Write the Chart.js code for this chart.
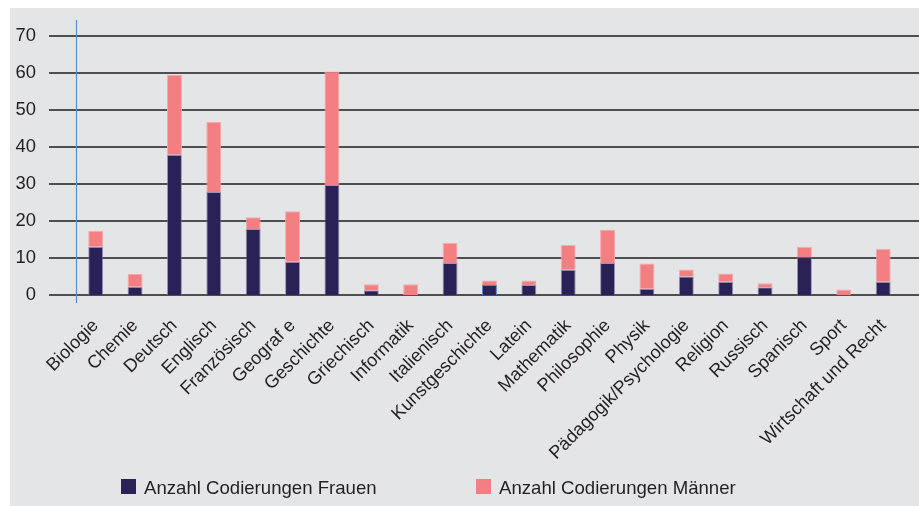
<!DOCTYPE html>
<html>
<head>
<meta charset="utf-8">
<script src="https://cdn.jsdelivr.net/npm/chart.js@4"></script>
<style>
  body { margin: 0; background: #ffffff; font-family: "Liberation Sans", Arial, sans-serif; }
  #panel { position: absolute; left: 10px; top: 8px; width: 909px; height: 498px; background: #e4e5e7; }
  #wrap { position: absolute; left: 0; top: 0; width: 909px; height: 498px; }
  .lg { position: absolute; top: 469px; font-size: 18.6px; color: #231f20; line-height: 20px; white-space: nowrap; }
  .lg i { position: absolute; left: 0; top: 2px; width: 15px; height: 15px; }
  .lg span { position: absolute; left: 23px; top: 1px; }
</style>
</head>
<body>
<div id="panel">
  <div id="wrap"><canvas id="chart"></canvas></div>
  <div class="lg" style="left:111px"><i style="background:#2a2156"></i><span>Anzahl Codierungen Frauen</span></div>
  <div class="lg" style="left:466px"><i style="background:#f47f83"></i><span>Anzahl Codierungen Männer</span></div>
</div>
<script>
// Fächer
const subjects = [
    'Biologie', 'Chemie', 'Deutsch', 'Englisch', 'Französisch', 'Geograf e', 'Geschichte',
    'Griechisch', 'Informatik', 'Italienisch', 'Kunstgeschichte', 'Latein', 'Mathematik',
    'Philosophie', 'Physik', 'Pädagogik/Psychologie', 'Religion', 'Russisch', 'Spanisch',
    'Sport', 'Wirtschaft und Recht'
];

// Anzahl Codierungen
const women = [13, 2.2, 37.8, 27.8, 17.8, 9, 29.7, 1.3, 0, 8.6, 2.7, 2.7, 6.8, 8.6, 1.7, 5, 3.6, 2.1, 10.2, 0, 3.6];
const men = [4.3, 3.5, 21.6, 18.9, 3.2, 13.6, 30.6, 1.6, 2.9, 5.4, 1.2, 1.2, 6.7, 9, 6.8, 1.9, 2.2, 1.1, 2.8, 1.5, 8.8];

const yTicks = [0, 10, 20, 30, 40, 50, 60, 70];

const FONT = '"Liberation Sans", Arial, sans-serif';

// gridlines run past the plot on both sides, blue axis line a bit longer than the plot
const framePlugin = {
    id: 'frame',
    beforeDatasetsDraw(chart) {
        const { ctx, chartArea, scales } = chart;
        ctx.save();
        ctx.strokeStyle = '#4e4e50';
        ctx.lineWidth = 2;
        yTicks.forEach(v => {
            const y = Math.round(scales.y.getPixelForValue(v));
            ctx.beginPath();
            ctx.moveTo(39, y);
            ctx.lineTo(chart.width, y);
            ctx.stroke();
        });
        ctx.strokeStyle = '#5b8fc6';
        ctx.lineWidth = 1.2;
        const x = Math.round(chartArea.left) + 0.5;
        ctx.beginPath();
        ctx.moveTo(x, chartArea.top - 15.5);
        ctx.lineTo(x, chartArea.bottom + 8);
        ctx.stroke();
        ctx.restore();
    }
};

const womenBorder = women.map((_, i) => i === 10 ? '#4a86c5' : 'rgba(120, 112, 160, 0.7)');

new Chart(document.getElementById('chart'), {
    type: 'bar',
    data: {
        labels: subjects,
        datasets: [
            {
                label: 'Anzahl Codierungen Frauen',
                data: women,
                backgroundColor: '#2a2156',
                borderColor: womenBorder,
                borderWidth: 1,
                borderSkipped: 'start'
            },
            {
                label: 'Anzahl Codierungen Männer',
                data: men,
                backgroundColor: '#f47f83',
                borderColor: '#f7a9ab',
                borderWidth: 1,
                borderSkipped: 'start'
            }
        ]
    },
    options: {
        responsive: true,
        maintainAspectRatio: false,
        animation: false,
        categoryPercentage: 1,
        barPercentage: 0.38,
        layout: { padding: { left: 0, right: 15.5, top: 27.5, bottom: 0 } },
        plugins: {
            legend: { display: false },
            tooltip: { enabled: false }
        },
        scales: {
            x: {
                stacked: true,
                grid: { display: false, drawTicks: false },
                border: { display: false },
                ticks: {
                    color: '#231f20',
                    font: { family: FONT, size: 18.2 },
                    minRotation: 45,
                    maxRotation: 45,
                    autoSkip: false,
                    padding: 20
                },
                afterFit: s => { s.height = 211; }
            },
            y: {
                stacked: true,
                min: 0,
                max: 70,
                grid: { display: false, drawTicks: true, tickLength: 36 },
                border: { display: false },
                ticks: {
                    stepSize: 10,
                    color: '#231f20',
                    font: { family: FONT, size: 18.4 },
                    padding: 4
                },
                afterFit: s => { s.width = 66; }
            }
        }
    },
    plugins: [framePlugin]
});
</script>
</body>
</html>
